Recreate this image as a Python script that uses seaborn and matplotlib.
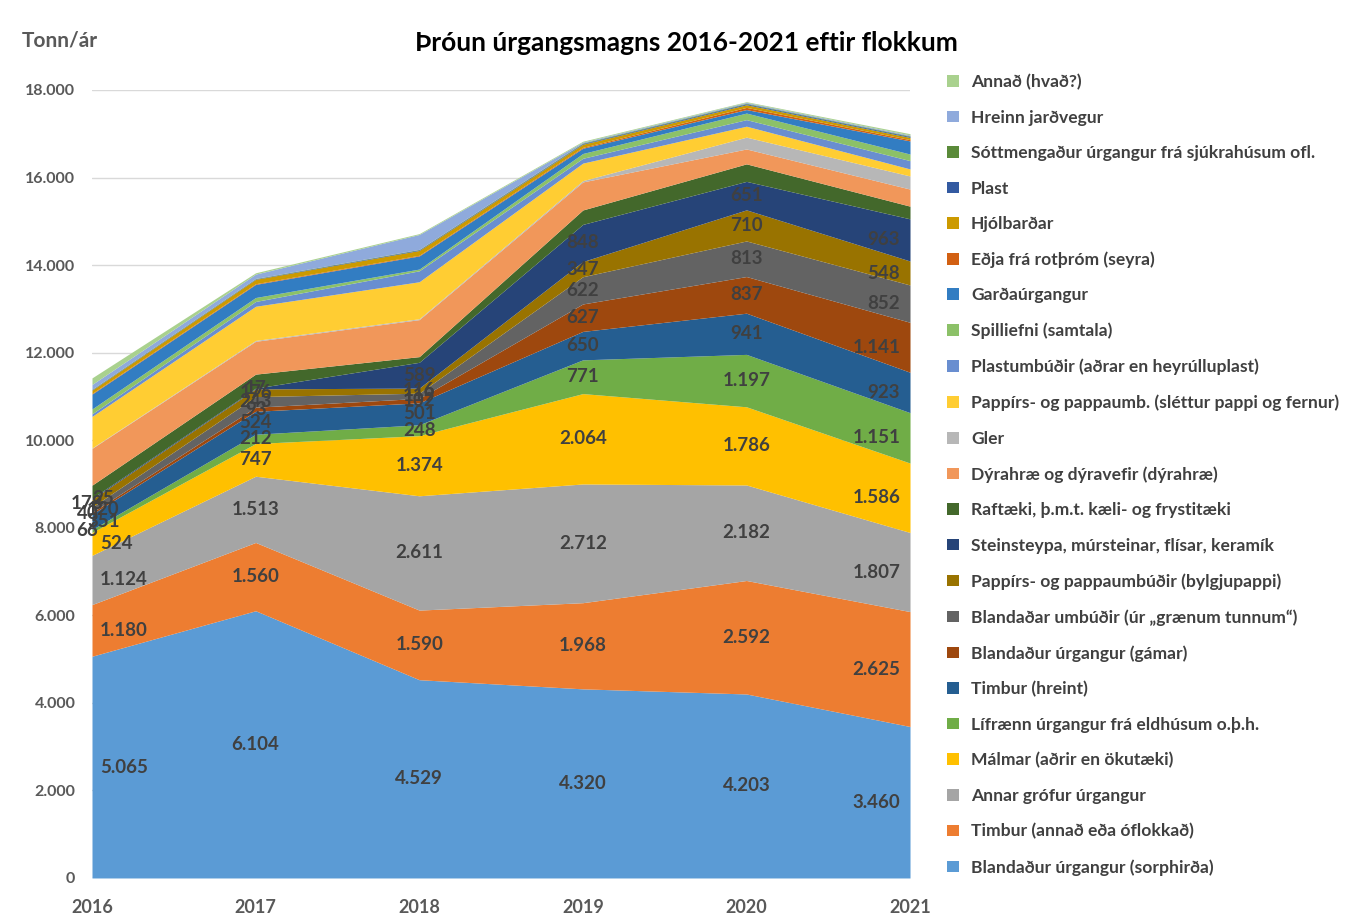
import matplotlib.pyplot as plt
import numpy as np
import seaborn as sns

years = [2016, 2017, 2018, 2019, 2020, 2021]

# bottom to top
categories = [
    'Blandaður úrgangur (sorphirða)',
    'Timbur (annað eða óflokkað)',
    'Annar grófur úrgangur',
    'Málmar (aðrir en ökutæki)',
    'Lífrænn úrgangur frá eldhúsum o.þ.h.',
    'Timbur (hreint)',
    'Blandaður úrgangur (gámar)',
    'Blandaðar umbúðir (úr „grænum tunnum“)',
    'Pappírs- og pappaumbúðir (bylgjupappi)',
    'Steinsteypa, múrsteinar, flísar, keramík',
    'Raftæki, þ.m.t. kæli- og frystitæki',
    'Dýrahræ og dýravefir (dýrahræ)',
    'Gler',
    'Pappírs- og pappaumb. (sléttur pappi og fernur)',
    'Plastumbúðir (aðrar en heyrúlluplast)',
    'Spilliefni (samtala)',
    'Garðaúrgangur',
    'Eðja frá rotþróm (seyra)',
    'Hjólbarðar',
    'Plast',
    'Sóttmengaður úrgangur frá sjúkrahúsum ofl.',
    'Hreinn jarðvegur',
    'Annað (hvað?)',
]

sorphirda = [5065, 6104, 4529, 4320, 4203, 3460]
timbur_annad = [1180, 1560, 1590, 1968, 2592, 2625]
grofur = [1124, 1513, 2611, 2712, 2182, 1807]
malmar = [524, 747, 1374, 2064, 1786, 1586]
lifraenn = [66, 212, 248, 771, 1197, 1151]
timbur_hreint = [351, 524, 501, 650, 941, 923]
gamar = [40, 93, 102, 627, 837, 1141]
umbudir = [120, 243, 119, 622, 813, 852]
bylgjupappi = [178, 176, 116, 347, 710, 548]
steinsteypa = [25, 17, 589, 848, 651, 963]
raftaeki = [300, 320, 130, 330, 400, 290]
dyrahrae = [840, 750, 845, 640, 340, 390]
gler = [10, 20, 20, 30, 270, 300]
slettur = [720, 780, 845, 400, 250, 160]
plastumbudir = [60, 110, 250, 110, 150, 190]
spilliefni = [110, 90, 40, 110, 150, 150]
gardaurgangur = [340, 300, 300, 120, 80, 300]
edja = [15, 15, 15, 20, 50, 30]
hjolbardar = [75, 100, 110, 70, 60, 50]
plast = [10, 10, 15, 15, 20, 20]
sottmengad = [10, 10, 10, 15, 15, 15]
jardvegur = [110, 100, 340, 20, 20, 20]
annad = [150, 30, 20, 20, 15, 30]

series = [sorphirda, timbur_annad, grofur, malmar, lifraenn, timbur_hreint,
          gamar, umbudir, bylgjupappi, steinsteypa, raftaeki, dyrahrae, gler,
          slettur, plastumbudir, spilliefni, gardaurgangur, edja, hjolbardar,
          plast, sottmengad, jardvegur, annad]

colors = ['#5B9BD5', '#ED7D31', '#A5A5A5', '#FFC000', '#70AD47', '#255E91',
          '#9E480E', '#636363', '#997300', '#264478', '#43682B', '#F1975A',
          '#B7B7B7', '#FFCD33', '#698ED0', '#8CC168', '#327DC2', '#D26012',
          '#CC9A00', '#335AA1', '#5A8A39', '#8FAADC', '#A9D18E']

n_labelled = 10

sns.set_theme(style='white')
plt.rcParams['font.family'] = ['Lato', 'DejaVu Sans']

fig = plt.figure(figsize=(13.67, 9.18), dpi=100)
ax = fig.add_axes([0.0673, 0.0436, 0.5984, 0.8584])

ax.stackplot(years, *series, colors=colors, labels=categories, linewidth=0, zorder=2)

ax.set_xlim(2016, 2021)
ax.set_ylim(0, 18000)
ax.set_yticks(np.arange(0, 18001, 2000))
ax.yaxis.set_major_formatter(plt.FuncFormatter(lambda v, p: f'{int(v):,}'.replace(',', '.')))
ax.set_xticks(years)
ax.grid(axis='y', color='#D9D9D9', linewidth=1, zorder=0)
ax.set_axisbelow(True)
for s in ax.spines.values():
    s.set_visible(False)
ax.tick_params(axis='both', length=0, labelcolor='#595959')
ax.tick_params(axis='x', labelsize=13, pad=15)
ax.tick_params(axis='y', labelsize=11.5, pad=12)
for lbl in ax.get_xticklabels() + ax.get_yticklabels():
    lbl.set_fontweight('bold')

# data labels on the first ten series
cum = np.zeros(len(years))
for i, vals in enumerate(series):
    vals = np.array(vals, dtype=float)
    if i < n_labelled:
        for j, yr in enumerate(years):
            y = cum[j] + vals[j] / 2
            txt = f'{int(vals[j]):,}'.replace(',', '.')
            if j == 0:
                if vals[j] < 500:
                    x, ha = yr + 0.07 * (1 if i % 2 else -0.4), 'center'
                else:
                    x, ha = yr + 0.05, 'left'
            elif j == len(years) - 1:
                x, ha = yr - 0.06, 'right'
            else:
                x, ha = yr, 'center'
            ax.text(x, y, txt, ha=ha, va='center', fontsize=13.5,
                    fontweight='bold', color='#404040', zorder=5)
    cum += vals

fig.text(0.502, 0.953, 'Þróun úrgangsmagns 2016-2021 eftir flokkum', ha='center',
         va='center', fontsize=19, fontweight='bold', color='#000000')
fig.text(0.016, 0.956, 'Tonn/ár', ha='left', va='center', fontsize=15,
         fontweight='bold', color='#595959')

handles, labels = ax.get_legend_handles_labels()
leg = fig.legend(handles[::-1], labels[::-1], loc='upper left',
                 bbox_to_anchor=(0.688, 0.927), frameon=False, fontsize=12.6,
                 handlelength=0.65, handleheight=0.65, handletextpad=0.7,
                 labelspacing=1.11, borderaxespad=0)
for t in leg.get_texts():
    t.set_color('#404040')
    t.set_fontweight('bold')

fig.savefig('out.png', dpi=100)
